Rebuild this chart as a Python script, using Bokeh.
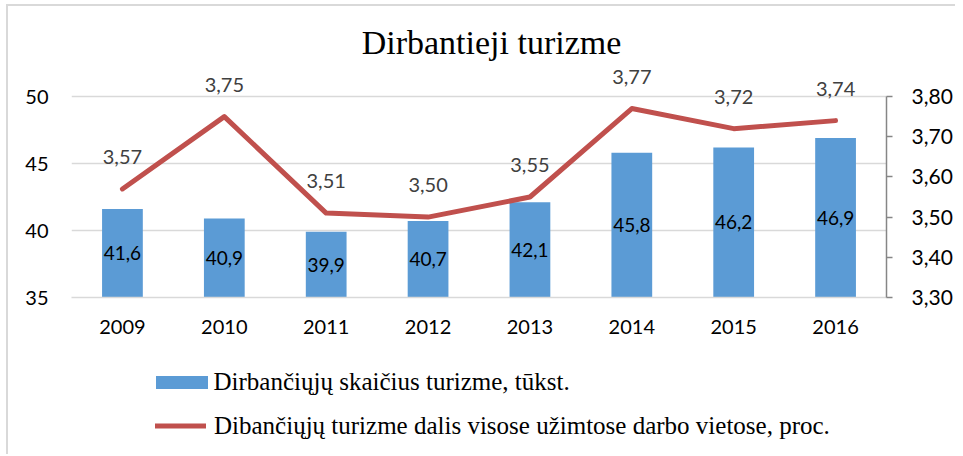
from bokeh.plotting import figure
from bokeh.layouts import column
from bokeh.models import (Range1d, LinearAxis, FactorRange, ColumnDataSource, LabelSet,
                          Legend, LegendItem, Label, FixedTicker, CustomJSTickFormatter)
from bokeh.core.properties import value
from bokeh.embed import file_html
from bokeh.resources import INLINE

# ---- data ----
years = ["2009", "2010", "2011", "2012", "2013", "2014", "2015", "2016"]
employed = [41.6, 40.9, 39.9, 40.7, 42.1, 45.8, 46.2, 46.9]
share = [3.57, 3.75, 3.51, 3.50, 3.55, 3.77, 3.72, 3.74]
left_ticks = [35, 40, 45, 50]
right_ticks = [3.30, 3.40, 3.50, 3.60, 3.70, 3.80]
title_text = "Dirbantieji turizme"
bar_name = "Dirbančiųjų skaičius turizme, tūkst."
line_name = "Dibančiųjų turizme dalis visose užimtose darbo vietose, proc."

BLUE = "#5B9BD5"
RED = "#C0504D"
GRID = "#D9D9D9"
SANS = "Lato"
SERIF = "Liberation Serif"

# ---- layout (pixels) ----
W = 955
H1, H2 = 356, 98
FR_LEFT, FR_RIGHT = 71, 886
FR_TOP, FR_BOTTOM = 4, 297
GRID_SPAN = 201            # px between lowest and highest gridline
head = (FR_BOTTOM - FR_TOP - GRID_SPAN) / GRID_SPAN   # headroom above top gridline (fraction)

lo, hi = left_ticks[0], left_ticks[-1]
rlo, rhi = right_ticks[0], right_ticks[-1]

src = ColumnDataSource(dict(
    year=years,
    emp=employed,
    emp_mid=[(lo + v) / 2 for v in employed],
    emp_lbl=[f"{v:.1f}".replace(".", ",") for v in employed],
    share=share,
    share_lbl=[f"{v:.2f}".replace(".", ",") for v in share],
))

p = figure(width=W, height=H1, output_backend="svg", toolbar_location=None,
           x_range=FactorRange(*years, range_padding=0),
           y_range=Range1d(lo, hi + (hi - lo) * head),
           min_border_left=FR_LEFT, min_border_right=W - FR_RIGHT,
           min_border_top=FR_TOP, min_border_bottom=H1 - FR_BOTTOM)
p.extra_y_ranges = {"right": Range1d(rlo, rhi + (rhi - rlo) * head)}
p.outline_line_color = None
p.background_fill_alpha = 0
p.border_fill_alpha = 0

# axes
p.yaxis.ticker = FixedTicker(ticks=left_ticks)
p.yaxis.axis_line_color = None
p.yaxis.major_tick_line_color = None
p.yaxis.minor_tick_line_color = None
p.yaxis.major_tick_out = 0
p.yaxis.major_label_standoff = 23
p.yaxis.major_label_text_font = SANS
p.yaxis.major_label_text_font_size = "20px"
p.yaxis.major_label_text_color = "#000000"

p.xaxis.axis_line_color = GRID
p.xaxis.axis_line_width = 1.5
p.xaxis.major_tick_line_color = None
p.xaxis.major_tick_out = 0
p.xaxis.major_label_standoff = 22
p.xaxis.major_label_text_font = SANS
p.xaxis.major_label_text_font_size = "20px"
p.xaxis.major_label_text_color = "#000000"

raxis = LinearAxis(y_range_name="right", ticker=FixedTicker(ticks=right_ticks),
                   bounds=(rlo, rhi),
                   formatter=CustomJSTickFormatter(code="return tick.toFixed(2).replace('.', ',');"))
raxis.axis_line_color = "#868686"
raxis.axis_line_width = 1.5
raxis.major_tick_line_color = "#868686"
raxis.major_tick_line_width = 1.5
raxis.major_tick_out = 6
raxis.major_tick_in = 0
raxis.minor_tick_line_color = None
raxis.major_label_standoff = 19
raxis.major_label_text_font = SANS
raxis.major_label_text_font_size = "21px"
raxis.major_label_text_color = "#000000"
p.add_layout(raxis, "right")

p.xgrid.grid_line_color = None
p.ygrid.ticker = FixedTicker(ticks=left_ticks)
p.ygrid.grid_line_color = GRID
p.ygrid.grid_line_width = 1.5

# glyphs
bar_style = dict(fill_color=BLUE, line_color=None)
line_style = dict(line_color=RED, line_width=5, line_cap="round", line_join="round")
p.vbar(x="year", top="emp", bottom=lo, width=0.4, source=src, **bar_style)
p.line(x="year", y="share", y_range_name="right", source=src, **line_style)

p.add_layout(LabelSet(x="year", y="emp_mid", text="emp_lbl", source=src,
                      text_align="center", text_baseline="middle",
                      text_font=value(SANS), text_font_size=value("19px"), text_color="#000000"))
p.add_layout(LabelSet(x="year", y="share", text="share_lbl", source=src, y_range_name="right",
                      y_offset=32, text_align="center", text_baseline="middle",
                      text_font=value(SANS), text_font_size=value("20px"), text_color="#404040"))

# title (inside the frame headroom)
p.add_layout(Label(x=491 - FR_LEFT, y=FR_BOTTOM - 42, x_units="screen", y_units="screen",
                   text=title_text, text_align="center", text_baseline="middle",
                   text_font=SERIF, text_font_size="34px", text_color="#000000"))

# ---- legend strip below the chart ----
# same series drawn against ranges that keep them out of view; only their legend swatches show
lf = figure(width=W, height=H2, output_backend="svg", toolbar_location=None,
            x_range=p.x_range, y_range=Range1d(1000, 1001),
            min_border_left=0, min_border_right=0, min_border_top=0, min_border_bottom=0)
lf.extra_y_ranges = {"right": Range1d(1000, 1001)}
lf.axis.visible = False
lf.grid.grid_line_color = None
lf.outline_line_color = None
lf.background_fill_alpha = 0
lf.border_fill_alpha = 0
lbar = lf.vbar(x="year", top="emp", bottom=lo, width=0.4, source=src, **bar_style)
lline = lf.line(x="year", y="share", y_range_name="right", source=src, **line_style)

leg1 = Legend(items=[LegendItem(label=bar_name, renderers=[lbar])],
              location=(77.5, 58), glyph_width=65, glyph_height=16, label_height=16,
              label_standoff=0, margin=0, padding=0, border_line_color=None,
              background_fill_alpha=0, label_text_font=SERIF, label_text_font_size="25px",
              label_text_color="#000000", label_text_baseline="middle")
leg2 = Legend(items=[LegendItem(label=line_name, renderers=[lline])],
              location=(84, 14.5), glyph_width=51, glyph_height=13, label_height=13,
              label_standoff=8, margin=0, padding=0, border_line_color=None,
              background_fill_alpha=0, label_text_font=SERIF, label_text_font_size="25px",
              label_text_color="#000000", label_text_baseline="middle")
lf.add_layout(leg1, "center")
lf.add_layout(leg2, "center")

layout = column(p, lf, spacing=0)
layout.styles = {"background": ("linear-gradient(#D9D9D9,#D9D9D9) 7px 4px / 100% 2px no-repeat, "
                                "linear-gradient(#D9D9D9,#D9D9D9) 6px 4px / 2px 100% no-repeat, #ffffff")}

open("out.html", "w").write(file_html(layout, INLINE))
